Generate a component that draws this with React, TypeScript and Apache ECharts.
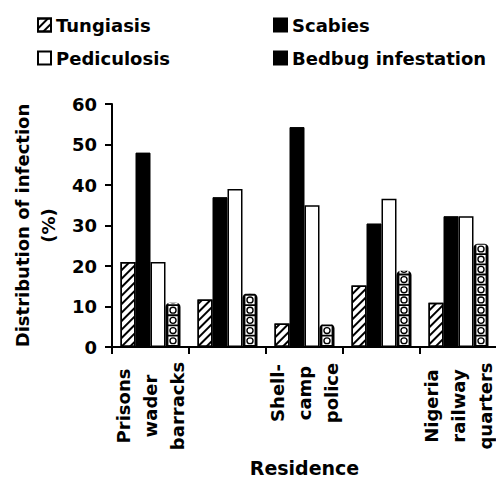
import React, { useEffect, useRef } from "react";
import * as echarts from "echarts";

const residences = ["Prisons\nwader\nbarracks", "", "Shell-\ncamp\npolice", "", "Nigeria\nrailway\nquarters"];
const tungiasis = [21, 11.7, 5.8, 15.2, 10.9];
const scabies = [48, 37, 54.3, 30.5, 32.3];
const pediculosis = [21, 39, 35, 36.6, 32.3];
const bedbug = [10.9, 13.2, 5.7, 18.8, 25.5];
const yMin = 0;
const yMax = 60;
const yStep = 10;

const FONT = "DejaVu Sans";
// white tile with a black ring cut out of it (nonzero fill rule)
const tilePath =
  "path://M0,0L9,0L9,8.5L0,8.5Z" +
  "M4.5,0.6A3.65,3.65,0,1,0,4.5,7.9A3.65,3.65,0,1,0,4.5,0.6Z" +
  "M4.5,1.95A2.3,2.3,0,1,1,4.5,6.55A2.3,2.3,0,1,1,4.5,1.95Z";

export default function App() {
  const ref = useRef<HTMLDivElement>(null);
  useEffect(() => {
    document.body.style.margin = "0";
    const chart = echarts.init(ref.current!, undefined, { renderer: "svg" });
    const legendCommon = {
      padding: 0,
      itemWidth: 13,
      itemHeight: 13,
      itemGap: 0,
      itemTextGap: 6,
      icon: "rect",
      selectedMode: false,
      textStyle: { fontFamily: FONT, fontWeight: "bold", fontSize: 18, color: "#000", lineHeight: 20 },
    };
    const labelText = { fontFamily: FONT, fontWeight: "bold", fontSize: 18, lineHeight: 27, color: "#000" };
    chart.setOption({
      animation: false,
      backgroundColor: "#fff",
      textStyle: { fontFamily: FONT },
      legend: [
        { ...legendCommon, data: ["Tungiasis"], left: 37, top: 15 },
        { ...legendCommon, data: ["Scabies"], left: 273, top: 15 },
        { ...legendCommon, data: ["Pediculosis"], left: 37, top: 48 },
        { ...legendCommon, data: ["Bedbug infestation"], left: 273, top: 48 },
      ],
      grid: { left: 112, right: -1, top: 104, bottom: 130, outerBoundsMode: "none", containLabel: false },
      xAxis: {
        type: "category",
        data: residences,
        name: "Residence",
        nameLocation: "middle",
        nameGap: 114,
        nameTextStyle: {
          fontFamily: FONT,
          fontWeight: "bold",
          fontSize: 19,
          lineHeight: 17,
          color: "#000",
          verticalAlign: "middle",
        },
        axisLine: { lineStyle: { color: "#000", width: 2 } },
        axisTick: { show: true, length: 7, alignWithLabel: false, lineStyle: { color: "#000", width: 2 } },
        axisLabel: {
          interval: 0,
          rotate: 90,
          align: "center",
          verticalAlign: "middle",
          margin: 59,
          ...labelText,
          formatter: (v: string, i: number) =>
            i === 2
              ? v
                  .split("\n")
                  .map((l) => "{gap|}{t|" + l + "}")
                  .join("\n")
              : v,
          rich: {
            gap: { width: 26, height: 1, lineHeight: 27 },
            t: { ...labelText },
          },
        },
      },
      yAxis: {
        type: "value",
        min: yMin,
        max: yMax,
        interval: yStep,
        name: "Distribution of infection\n(%)",
        nameLocation: "middle",
        nameGap: 77,
        nameTextStyle: {
          fontFamily: FONT,
          fontWeight: "bold",
          fontSize: 18,
          lineHeight: 26,
          color: "#000",
          align: "center",
          verticalAlign: "middle",
        },
        splitLine: { show: false },
        axisLine: { show: true, lineStyle: { color: "#000", width: 2 } },
        axisTick: { show: true, length: 7, lineStyle: { color: "#000", width: 2 } },
        axisLabel: { margin: 15, fontFamily: FONT, fontWeight: "bold", fontSize: 18, color: "#000" },
      },
      series: [
        {
          name: "Tungiasis",
          type: "bar",
          data: tungiasis,
          barWidth: 15,
          barGap: "0%",
          itemStyle: {
            color: "#fff",
            borderColor: "#000",
            borderWidth: 1.5,
            decal: {
              symbol: "rect",
              symbolSize: 1,
              color: "#000",
              dashArrayX: [1, 0],
              dashArrayY: [2, 4],
              rotation: -Math.PI / 4,
            },
          },
        },
        {
          name: "Scabies",
          type: "bar",
          data: scabies,
          barWidth: 15,
          barGap: "0%",
          itemStyle: { color: "#000", borderColor: "#000", borderWidth: 1 },
        },
        {
          name: "Pediculosis",
          type: "bar",
          data: pediculosis,
          barWidth: 15,
          barGap: "0%",
          itemStyle: { color: "#fff", borderColor: "#000", borderWidth: 1.5 },
        },
        {
          name: "Bedbug infestation",
          type: "bar",
          data: bedbug,
          barWidth: 15,
          barGap: "0%",
          itemStyle: { color: "#000", borderColor: "#000", borderWidth: 2.5, borderRadius: [3, 3, 0, 0] },
        },
        {
          name: "bedbug-pattern",
          type: "pictorialBar",
          data: bedbug,
          symbol: tilePath,
          symbolSize: [9, 8.5],
          symbolMargin: 1,
          symbolRepeat: true,
          symbolClip: true,
          symbolOffset: [22.5, -2],
          symbolPosition: "start",
          itemStyle: { color: "#fff" },
          silent: true,
          z: 5,
        },
      ],
    });
    return () => chart.dispose();
  }, []);
  return <div ref={ref} style={{ width: 496, height: 477 }} />;
}
